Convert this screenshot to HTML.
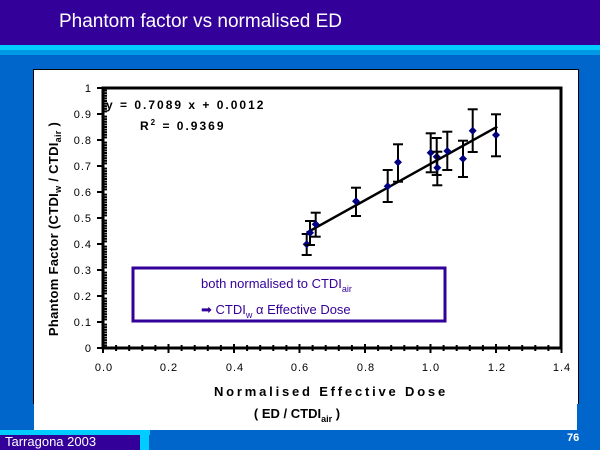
<!DOCTYPE html>
<html><head><style>
body{margin:0;width:600px;height:450px;overflow:hidden;background:#0066CC;font-family:"Liberation Sans",sans-serif;position:relative}
div{position:absolute}
</style></head><body>
<div style="left:0;top:0;width:600px;height:45px;background:#330099"></div>
<div style="left:0;top:45px;width:600px;height:5px;background:#00CCFF"></div>
<div style="left:0;top:50px;width:600px;height:5px;background:#0099E6"></div>
<div style="left:59px;top:11px;color:#fff;font-size:19px">Phantom factor vs normalised ED</div>
<div style="left:33px;top:69px;width:544px;height:334px;background:#fff;border:1px solid #000;border-bottom:none"></div>
<div style="left:34px;top:403px;width:543px;height:27px;background:#fff"></div>
<div style="left:0;top:430px;width:150px;height:5px;background:#00CCFF"></div>
<div style="left:0;top:435px;width:140px;height:15px;background:#330099"></div>
<div style="left:140px;top:435px;width:9px;height:15px;background:#00CCFF"></div>
<div style="left:5px;top:434px;color:#fff;font-size:13px">Tarragona 2003</div>
<div style="left:567px;top:432px;color:#fff;font-size:11px;font-weight:bold">76</div>
<svg width="600" height="450" style="position:absolute;left:0;top:0" font-family="Liberation Sans, sans-serif">
<rect x="103" y="88" width="458" height="260" fill="none" stroke="#000" stroke-width="3"/>
<g font-size="11" fill="#000" text-anchor="end" letter-spacing="1">
<text x="92" y="352">0</text><text x="92" y="326">0.1</text><text x="92" y="300">0.2</text><text x="92" y="274">0.3</text><text x="92" y="248">0.4</text><text x="92" y="222">0.5</text><text x="92" y="196">0.6</text><text x="92" y="170">0.7</text><text x="92" y="144">0.8</text><text x="92" y="118">0.9</text><text x="92" y="92">1</text>
</g>
<g font-size="11" fill="#000" text-anchor="middle" letter-spacing="1">
<text x="104" y="371">0.0</text><text x="169" y="371">0.2</text><text x="235" y="371">0.4</text><text x="300" y="371">0.6</text><text x="366" y="371">0.8</text><text x="431" y="371">1.0</text><text x="497" y="371">1.2</text><text x="562" y="371">1.4</text>
</g>
<g id="ticks" stroke="#000" stroke-width="2"></g>
<text x="106" y="109" font-size="12" font-weight="bold" letter-spacing="2">y = 0.7089 x + 0.0012</text>
<text x="140" y="130" font-size="12" font-weight="bold" letter-spacing="2">R<tspan dy="-5" font-size="8">2</tspan><tspan dy="5"> = 0.9369</tspan></text>
<text transform="translate(58,229) rotate(-90)" text-anchor="middle" font-size="13" font-weight="bold" letter-spacing="0.3">Phantom Factor (CTDI<tspan font-size="9" dy="3">w</tspan><tspan dy="-3"> / CTDI</tspan><tspan font-size="9" dy="3">air</tspan><tspan dy="-3"> )</tspan></text>
<text x="331" y="396" text-anchor="middle" font-size="13" font-weight="bold" letter-spacing="2.8">Normalised Effective Dose</text>
<text x="297" y="418" text-anchor="middle" font-size="13" font-weight="bold">( ED / CTDI<tspan font-size="9" dy="4">air</tspan><tspan dy="-4"> )</tspan></text>
<rect x="133" y="268" width="312" height="53" fill="#fff" stroke="#330099" stroke-width="3"/>
<text x="201" y="288" font-size="13" fill="#330099">both normalised to CTDI<tspan font-size="9" dy="4">air</tspan></text>
<text x="201" y="314" font-size="13" fill="#330099">➡ CTDI<tspan font-size="9" dy="4">w</tspan><tspan dy="-4"> α Effective Dose</tspan></text>
<line x1="306.7" y1="232.7" x2="497.3" y2="126.7" stroke="#000" stroke-width="2.5"/>
<g id="pts" stroke="#000" stroke-width="2" fill="#000080"></g>
</svg>
<script>
var ns="http://www.w3.org/2000/svg",t=document.getElementById("ticks");
function L(x1,y1,x2,y2,g){var l=document.createElementNS(ns,"line");l.setAttribute("x1",x1);l.setAttribute("y1",y1);l.setAttribute("x2",x2);l.setAttribute("y2",y2);g.appendChild(l);}
for(var i=0;i<=100;i++){var y=348-i*2.6;if(i%10==0)L(97,y,104,y,t);else L(104,y,107,y,t);}
for(var i=0;i<=35;i++){var x=103+i*13.1;if(i%5==0)L(x,344,x,353,t);else L(x,345,x,351,t);}
var P=[[306.7,244.3,234,255],[310,232.7,221,245],[315.7,224.3,212.7,236.7],[356,201.3,187.7,216],[387.7,186.3,170,202],[398,162.3,144.3,181.7],[430.7,152.7,133.3,172.3],[436.7,156.7,138,175],[437.3,167.7,151.7,185.3],[447.3,151,131.7,170],[463,158.7,140.7,177],[472.7,130.7,109.3,152],[496,135,114.3,156.3]],g=document.getElementById("pts");
P.forEach(function(p){L(p[0],p[2],p[0],p[3],g);L(p[0]-5,p[2],p[0]+5,p[2],g);L(p[0]-5,p[3],p[0]+5,p[3],g);
var d=document.createElementNS(ns,"polygon");d.setAttribute("points",(p[0]-4)+","+p[1]+" "+p[0]+","+(p[1]-4)+" "+(p[0]+4)+","+p[1]+" "+p[0]+","+(p[1]+4));d.setAttribute("stroke","none");g.appendChild(d);});
</script>
</body></html>
